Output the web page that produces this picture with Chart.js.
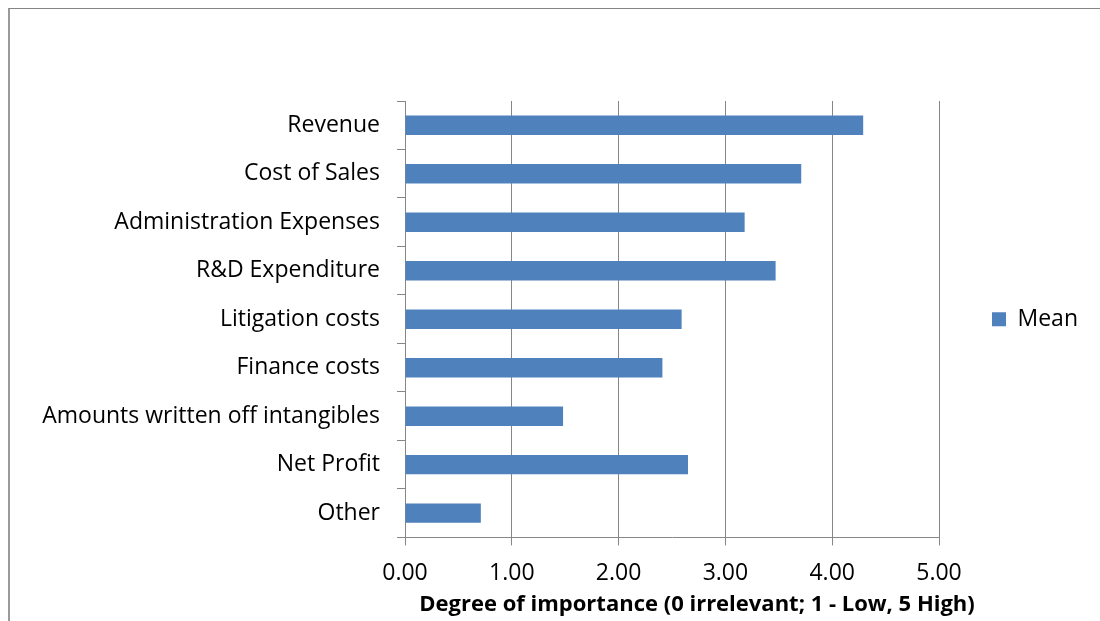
<!DOCTYPE html>
<html>
<head>
<meta charset="utf-8">
<script src="https://cdn.jsdelivr.net/npm/chart.js@4.4.1/dist/chart.umd.min.js"></script>
<style>
  html, body { margin: 0; padding: 0; background: #fff; }
  #wrap { position: relative; width: 1100px; height: 621px; overflow: hidden; }
  #frame {
    position: absolute; left: 8px; top: 8px; width: 1200px; height: 700px;
    border-top: 1px solid #858585; border-left: 2px solid #9a9a9a;
  }
  canvas { position: absolute; left: 0; top: 0; }
</style>
</head>
<body>
<div id="wrap">
  <div id="frame"></div>
  <canvas id="chart" width="1100" height="621"></canvas>
</div>
<script>
const categories = [
  "Revenue",
  "Cost of Sales",
  "Administration Expenses",
  "R&D Expenditure",
  "Litigation costs",
  "Finance costs",
  "Amounts written off intangibles",
  "Net Profit",
  "Other",
];
const meanValues = [4.29, 3.71, 3.18, 3.47, 2.59, 2.41, 1.48, 2.65, 0.71];
const xTicks = [0, 1, 2, 3, 4, 5];
const seriesName = "Mean";
const xTitle = "Degree of importance (0 irrelevant; 1 - Low, 5 High)";

const fontFamily = "'Open Sans', sans-serif";
const gridColor = "#868686";

// legend sits further right than chart.js would put it, title drawn by hand
const extras = {
  id: "extras",
  afterLayout(chart) {
    const lg = chart.legend;
    if (!lg) return;
    const dx = 43;
    lg.left += dx;
    lg.right += dx;
  },
  afterDraw(chart) {
    const { ctx, chartArea } = chart;
    ctx.save();
    ctx.font = `bold 22px ${fontFamily}`;
    ctx.fillStyle = "#000";
    ctx.textAlign = "center";
    ctx.textBaseline = "middle";
    ctx.fillText(xTitle, (chartArea.left + chartArea.right) / 2 + 25, 605);
    ctx.restore();
  },
};

new Chart(document.getElementById("chart"), {
  type: "bar",
  data: {
    labels: categories,
    datasets: [{
      label: seriesName,
      data: meanValues,
      backgroundColor: "#4F81BD",
      borderWidth: 0,
      categoryPercentage: 0.8,
      barPercentage: 0.5,
    }],
  },
  options: {
    indexAxis: "y",
    responsive: false,
    animation: false,
    layout: { padding: { top: 101, left: 0, right: 55, bottom: 20 } },
    plugins: {
      legend: {
        position: "right",
        fullSize: false,
        labels: {
          color: "#000",
          font: { family: fontFamily, size: 23 },
          boxWidth: 14,
          boxHeight: 14,
          padding: 10,
        },
      },
      tooltip: { enabled: false },
    },
    scales: {
      x: {
        min: 0,
        max: 5,
        afterBuildTicks(scale) {
          scale.ticks = xTicks.map((v) => ({ value: v }));
        },
        ticks: {
          color: "#000",
          font: { family: fontFamily, size: 23 },
          padding: 14,
          maxRotation: 0,
          callback: (v) => Number(v).toFixed(2),
        },
        grid: { color: gridColor, tickLength: 8, lineWidth: 1 },
        border: { color: gridColor, width: 1 },
      },
      y: {
        afterFit(scale) {
          scale.width = 405;
        },
        ticks: {
          color: "#000",
          font: { family: fontFamily, size: 23 },
          padding: 17,
        },
        grid: { color: gridColor, drawOnChartArea: false, tickLength: 8, offset: true },
        border: { color: gridColor, width: 1 },
      },
    },
  },
  plugins: [extras],
});
</script>
</body>
</html>
